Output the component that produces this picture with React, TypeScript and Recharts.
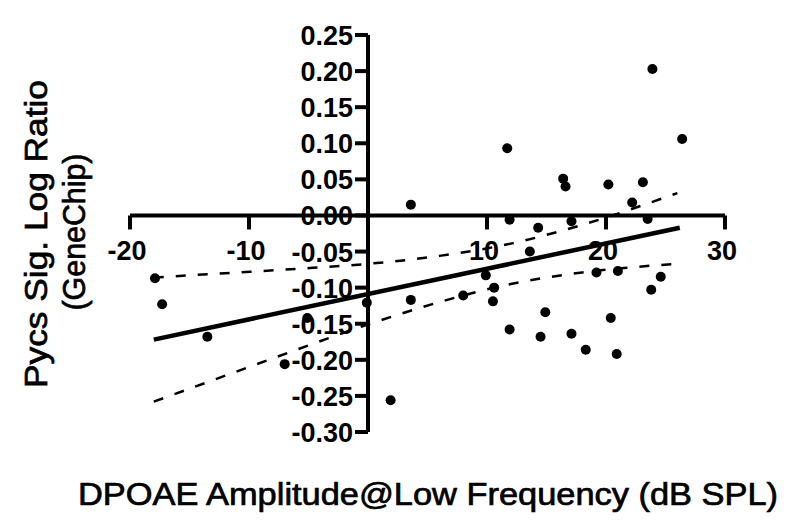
import {
  ComposedChart, Line, Scatter, XAxis, YAxis,
  ReferenceLine, ReferenceDot,
} from 'recharts';

// DPOAE amplitude (dB SPL) vs Pycs log ratio
const dpoaeAmp = [
  -17.9, -17.3, -13.5, -7.0, -5.1, -0.1, 1.9, 3.6, 3.6, 8.0,
  9.9, 10.6, 10.5, 11.7, 11.9, 11.9, 13.6, 14.3, 14.5, 14.9,
  16.4, 16.6, 17.1, 17.1, 18.3, 19.2, 20.2, 20.4, 20.9, 21.0,
  22.2, 23.1, 23.5, 23.8, 23.9, 24.6, 26.4,
];
const logRatio = [
  -0.087, -0.123, -0.168, -0.206, -0.142, -0.121, -0.256, 0.015, -0.117, -0.111,
  -0.083, -0.100, -0.119, 0.093, -0.006, -0.158, -0.050, -0.017, -0.168, -0.134,
  0.051, 0.040, -0.008, -0.164, -0.186, -0.079, 0.043, -0.142, -0.192, -0.077,
  0.018, 0.046, -0.005, -0.103, 0.203, -0.085, 0.106,
];

// regression line and 95% confidence band
const fitX = [-18, 26.2];
const fitY = [-0.172, -0.017];
const bandX = [-18, -12, -6, 0, 6, 12, 18, 26];
const bandUpper = [-0.086, -0.080, -0.074, -0.067, -0.056, -0.039, -0.013, 0.031];
const bandLower = [-0.258, -0.222, -0.186, -0.151, -0.120, -0.095, -0.079, -0.067];

const xTicks = [-20, -10, 10, 20, 30];
const yTicks = [0.25, 0.2, 0.15, 0.1, 0.05, 0, -0.05, -0.1, -0.15, -0.2, -0.25, -0.3];

const xTitle = 'DPOAE Amplitude@Low Frequency (dB SPL)';
const yTitle = ['Pycs Sig. Log Ratio', '(GeneChip)'];

const FONT = '"Liberation Sans", Arial, Helvetica, sans-serif';

const points = dpoaeAmp.map((x, i) => ({ x, y: logRatio[i] }));
const fitLine = fitX.map((x, i) => ({ x, y: fitY[i] }));
const upperBand = bandX.map((x, i) => ({ x, y: bandUpper[i] }));
const lowerBand = bandX.map((x, i) => ({ x, y: bandLower[i] }));

function XTick({ cx, cy, label }: any) {
  return (
    <g>
      <line x1={cx} y1={cy} x2={cx} y2={cy + 14} stroke="#000" strokeWidth={4} />
      <text
        x={cx - 3}
        y={cy + 45}
        textAnchor="middle"
        fontFamily={FONT}
        fontWeight="bold"
        fontSize={27}
        fill="#000"
      >
        {label}
      </text>
    </g>
  );
}

function YTick({ cx, cy, label }: any) {
  return (
    <g>
      <line x1={cx - 13} y1={cy} x2={cx} y2={cy} stroke="#000" strokeWidth={4} />
      <text
        x={cx - 15}
        y={cy + 10}
        textAnchor="end"
        fontFamily={FONT}
        fontWeight="bold"
        fontSize={27}
        fill="#000"
      >
        {label}
      </text>
    </g>
  );
}

function Dot({ cx, cy }: any) {
  return <circle cx={cx} cy={cy} r={5} fill="#000" />;
}

const titleProps = {
  fontFamily: FONT,
  fontSize: 31,
  fill: '#000',
  stroke: '#000',
  strokeWidth: 0.7,
  textAnchor: 'middle' as const,
  lengthAdjust: 'spacingAndGlyphs',
};

export default function App() {
  return (
    <div style={{ position: 'absolute', left: 0, top: 0, width: 800, height: 530, background: '#fff' }}>
      <ComposedChart
        width={800}
        height={530}
        margin={{ top: 35, right: 75, bottom: 98, left: 130 }}
      >
        <XAxis type="number" dataKey="x" domain={[-20, 30]} hide allowDataOverflow />
        <YAxis type="number" dataKey="y" domain={[-0.3, 0.25]} hide allowDataOverflow />

        {yTicks.map(t => (
          <ReferenceDot
            key={`y${t}`}
            x={0}
            y={t}
            shape={(p: any) => <YTick {...p} label={t.toFixed(2)} />}
          />
        ))}
        {xTicks.map(t => (
          <ReferenceDot
            key={`x${t}`}
            x={t}
            y={0}
            shape={(p: any) => <XTick {...p} label={t} />}
          />
        ))}

        <ReferenceLine y={0} stroke="#000" strokeWidth={4} />
        <ReferenceLine x={0} stroke="#000" strokeWidth={4} />

        <Line
          data={upperBand}
          dataKey="y"
          type="monotone"
          stroke="#000"
          strokeWidth={2.5}
          strokeDasharray="10 12"
          dot={false}
          isAnimationActive={false}
        />
        <Line
          data={lowerBand}
          dataKey="y"
          type="monotone"
          stroke="#000"
          strokeWidth={2.5}
          strokeDasharray="10 12"
          dot={false}
          isAnimationActive={false}
        />
        <Line
          data={fitLine}
          dataKey="y"
          type="linear"
          stroke="#000"
          strokeWidth={4.5}
          dot={false}
          isAnimationActive={false}
        />
        <Scatter data={points} dataKey="y" fill="#000" shape={<Dot />} isAnimationActive={false} />
      </ComposedChart>

      <svg
        width={800}
        height={530}
        style={{ position: 'absolute', left: 0, top: 0, pointerEvents: 'none' }}
      >
        <text x={428} y={505} textLength={700} {...titleProps}>
          {xTitle}
        </text>
        <text x={47} y={234} transform="rotate(-90, 47, 234)" textLength={308} {...titleProps}>
          {yTitle[0]}
        </text>
        <text x={85} y={232} transform="rotate(-90, 85, 232)" textLength={157} {...titleProps}>
          {yTitle[1]}
        </text>
      </svg>
    </div>
  );
}
